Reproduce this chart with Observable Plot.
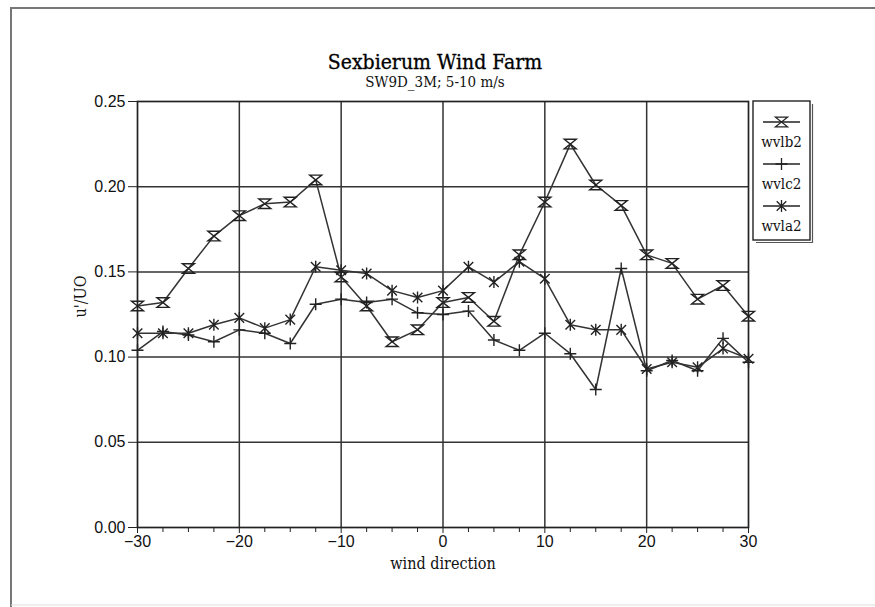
<!DOCTYPE html>
<html><head><meta charset="utf-8">
<script src="https://cdn.jsdelivr.net/npm/d3@7"></script>
<script src="https://cdn.jsdelivr.net/npm/@observablehq/plot@0.6"></script>
<style>html,body{margin:0;padding:0;background:#fff;}</style>
</head><body><div id="chart"></div>
<script>
// ---- data ----
const directions = [-30,-27.5,-25,-22.5,-20,-17.5,-15,-12.5,-10,-7.5,-5,-2.5,0,2.5,5,7.5,10,12.5,15,17.5,20,22.5,25,27.5,30];
const wvlb2 = [0.130,0.132,0.152,0.171,0.183,0.190,0.191,0.204,0.147,0.130,0.109,0.116,0.132,0.135,0.121,0.160,0.191,0.225,0.201,0.189,0.160,0.155,0.134,0.142,0.124];
const wvlc2 = [0.104,0.115,0.113,0.109,0.116,0.114,0.108,0.131,0.134,0.132,0.134,0.126,0.125,0.127,0.110,0.104,0.114,0.102,0.081,0.152,0.092,0.098,0.092,0.111,0.097];
const wvla2 = [0.114,0.114,0.114,0.119,0.123,0.117,0.122,0.153,0.151,0.149,0.139,0.135,0.139,0.153,0.144,0.156,0.146,0.119,0.116,0.116,0.093,0.097,0.094,0.105,0.099];
const seriesNames = ["wvlb2","wvlc2","wvla2"];
const xTicks = [-30,-20,-10,0,10,20,30];
const yTicks = [0,0.05,0.10,0.15,0.20,0.25];
const titleText = "Sexbierum Wind Farm";
const subtitleText = "SW9D_3M; 5-10 m/s";
const xLabel = "wind direction";
const yLabel = "u'/UO";

// ---- symbols ----
const hourglass = {draw(ctx, size){const r=Math.sqrt(size/Math.PI), h=r*0.8; ctx.moveTo(-r,-h); ctx.lineTo(r,-h); ctx.lineTo(-r,h); ctx.lineTo(r,h); ctx.closePath();}};
const plus = {draw(ctx, size){const r=Math.sqrt(size/Math.PI); ctx.moveTo(0,-r); ctx.lineTo(0,r); ctx.moveTo(-r,0); ctx.lineTo(r,0);}};
const asterisk = {draw(ctx, size){const r=Math.sqrt(size/Math.PI), d=r*0.8; ctx.moveTo(-d,-d); ctx.lineTo(d,d); ctx.moveTo(-d,d); ctx.lineTo(d,-d); ctx.moveTo(0,-r); ctx.lineTo(0,r);}};
const symbols = [hourglass, plus, asterisk];
const values = [wvlb2, wvlc2, wvla2];

const table = seriesNames.map((name, i) => directions.map((x, j) => ({series: name, x, y: values[i][j]})));
const minorTicks = directions.filter(d => !xTicks.includes(d));

const ink = "#222";
const serif = "'DejaVu Serif Condensed','DejaVu Serif',serif";
const sans = "'Liberation Sans',Arial,sans-serif";

const marks = [
  Plot.gridX(xTicks.slice(1,-1), {stroke: "#333", strokeOpacity: 1, strokeWidth: 1.5}),
  Plot.gridY(yTicks.slice(1,-1), {stroke: "#333", strokeOpacity: 1, strokeWidth: 1.5}),
  Plot.frame({stroke: ink, strokeWidth: 1.7}),
  Plot.axisY(yTicks, {tickFormat: d3.format(".2f"), tickSize: 9, tickPadding: 3, fontSize: 16, fontFamily: sans, label: null, stroke: ink, fill: "#111"}),
  Plot.axisX(xTicks, {tickSize: 6, tickPadding: 2, fontSize: 16, fontFamily: sans, label: null, stroke: ink, fill: "#111"}),
  Plot.axisX(minorTicks, {tickSize: 5, tickFormat: () => "", label: null, stroke: ink}),
];
table.forEach((rows, i) => {
  marks.push(Plot.line(rows, {x: "x", y: "y", stroke: "#333", strokeWidth: 1.5}));
  marks.push(Plot.dot(rows, {x: "x", y: "y", symbol: symbols[i], r: 6, fill: "none", stroke: "#222", strokeWidth: 1.4}));
});
marks.push(
  Plot.text([titleText], {text: d => d, frameAnchor: "top", lineAnchor: "bottom", dx: -8, dy: -33, fontSize: 21, fontFamily: serif, fill: "#000", stroke: "#000", strokeWidth: 0.3}),
  Plot.text([subtitleText], {text: d => d, frameAnchor: "top", lineAnchor: "bottom", dx: -8, dy: -15, fontSize: 15, fontFamily: serif, fill: "#111"}),
  Plot.text([xLabel], {text: d => d, frameAnchor: "bottom", lineAnchor: "bottom", dy: 41, fontSize: 16, fontFamily: serif, fill: "#111"}),
  Plot.text([yLabel], {text: d => d, frameAnchor: "left", lineAnchor: "middle", rotate: -90, dx: -57, dy: 3, fontSize: 16, fontFamily: serif, fill: "#111"})
);

const chart = Plot.plot({
  width: 875, height: 607,
  marginLeft: 137, marginRight: 127, marginTop: 101, marginBottom: 80,
  x: {domain: [-30, 30]},
  y: {domain: [0, 0.25]},
  style: {background: "#fff", color: "#111"},
  marks
});
document.getElementById("chart").appendChild(chart);

// ---- page frame & legend (layout only) ----
const svg = d3.select(chart);
svg.insert("path", ":first-child").attr("d", "M11,607V8H875").attr("fill", "none").attr("stroke", "#777").attr("stroke-width", 2);
svg.append("path").attr("d", "M11,605H875").attr("stroke", "#ddd").attr("stroke-width", 1);
const lg = svg.append("g");
lg.append("rect").attr("x", 753).attr("y", 101).attr("width", 57).attr("height", 139).attr("fill", "#fff").attr("stroke", ink).attr("stroke-width", 1.4);
lg.append("path").attr("d", "M756,242.5H812.5V104").attr("fill", "none").attr("stroke", "#555").attr("stroke-width", 1.2);
seriesNames.forEach((name, i) => {
  const cy = 122 + i * 42;
  lg.append("line").attr("x1", 763).attr("x2", 800).attr("y1", cy).attr("y2", cy).attr("stroke", ink).attr("stroke-width", 1.3);
  lg.append("path").attr("transform", `translate(781.5,${cy})`).attr("d", d3.symbol().type(symbols[i]).size(Math.PI * 36)()).attr("fill", "none").attr("stroke", ink).attr("stroke-width", 1.3);
  lg.append("text").attr("x", 781.5).attr("y", cy + 25).attr("text-anchor", "middle").attr("font-family", serif).attr("font-size", 15).attr("fill", "#111").text(name);
});
</script></body></html>
